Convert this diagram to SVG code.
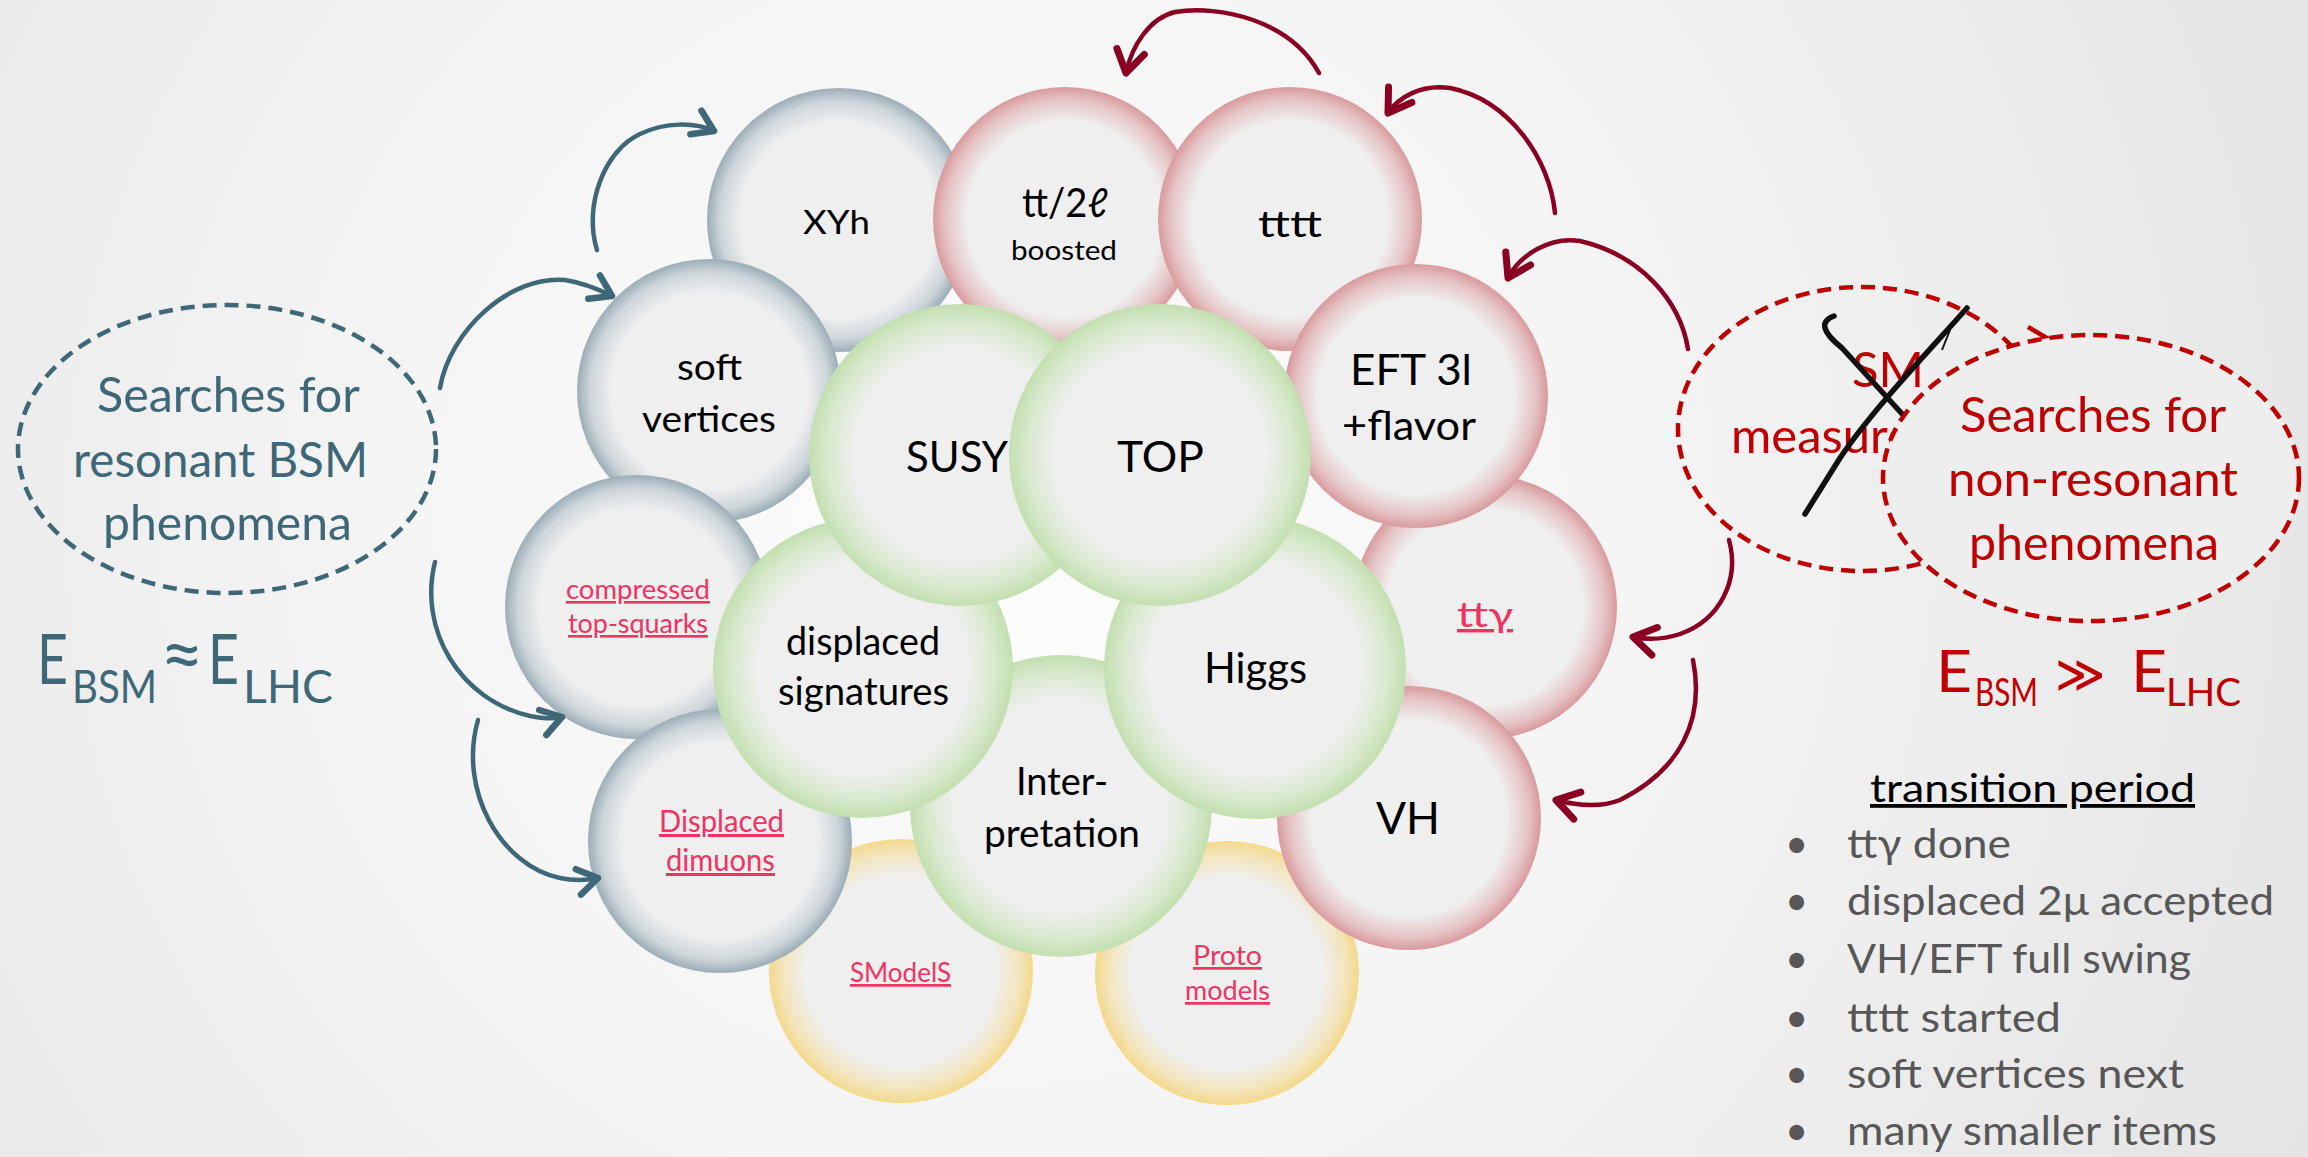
<svg xmlns="http://www.w3.org/2000/svg" width="2308" height="1157" viewBox="0 0 2308 1157">
<defs>
<radialGradient id="bg" cx="1000" cy="520" r="1450" gradientUnits="userSpaceOnUse">
<stop offset="0" stop-color="#fdfdfd"/><stop offset="0.45" stop-color="#f4f4f4"/><stop offset="1" stop-color="#e4e4e4"/>
</radialGradient>
<radialGradient id="gGray"><stop offset="0" stop-color="#efefef"/><stop offset="0.74" stop-color="#efefef"/><stop offset="0.9" stop-color="#cdd6db"/><stop offset="1" stop-color="#9cadb6"/></radialGradient>
<radialGradient id="gPink"><stop offset="0" stop-color="#efefef"/><stop offset="0.74" stop-color="#efefef"/><stop offset="0.9" stop-color="#e6c5c6"/><stop offset="1" stop-color="#d99a9d"/></radialGradient>
<radialGradient id="gGreen"><stop offset="0" stop-color="#efefef"/><stop offset="0.7" stop-color="#efefef"/><stop offset="0.88" stop-color="#d8e9cd"/><stop offset="1" stop-color="#c3dfb0"/></radialGradient>
<radialGradient id="gYellow"><stop offset="0" stop-color="#efefef"/><stop offset="0.72" stop-color="#efefef"/><stop offset="0.9" stop-color="#f3e4ba"/><stop offset="1" stop-color="#f4d98b"/></radialGradient>
<marker id="ahTeal" markerUnits="userSpaceOnUse" orient="auto" overflow="visible" markerWidth="1" markerHeight="1" refX="0" refY="0">
<path d="M -20 -13 L 0 0 L -20 13" fill="none" stroke="#3e6778" stroke-width="6.5" stroke-linecap="round" stroke-linejoin="round"/>
</marker>
<marker id="ahRed" markerUnits="userSpaceOnUse" orient="auto" overflow="visible" markerWidth="1" markerHeight="1" refX="0" refY="0">
<path d="M -22 -14 L 0 0 L -22 14" fill="none" stroke="#8a0022" stroke-width="7" stroke-linecap="round" stroke-linejoin="round"/>
</marker>
<style>
text{font-family:Lato,'Open Sans','Liberation Sans',sans-serif}
.n{fill:#000}
.lk{fill:#f0335f;text-decoration:underline}
.teal{fill:#3e6778}
.red{fill:#c00000}
.li{fill:#575757}
.cGray{fill:url(#gGray)}
.cPink{fill:url(#gPink)}
.cGreen{fill:url(#gGreen)}
.cYellow{fill:url(#gYellow)}
.arT{fill:none;stroke:#3e6778;stroke-width:4.5;stroke-linecap:round;marker-end:url(#ahTeal)}
.arR{fill:none;stroke:#8a0022;stroke-width:4.5;stroke-linecap:round;marker-end:url(#ahRed)}
.dashT{fill:none;stroke:#3e6778;stroke-width:4.5;stroke-dasharray:14 8}
.dashR{stroke:#c00000;stroke-width:4.5;stroke-dasharray:14 8}
.xs{fill:none;stroke:#111;stroke-width:5.5;stroke-linecap:round;stroke-linejoin:round}
</style>
</defs>
<rect width="2308" height="1157" fill="url(#bg)"/>

<!-- nodes -->
<g id="node-smodels"><circle class="cYellow" cx="901" cy="971" r="132"/>
<text class="lk" x="850" y="982" font-size="27" textLength="101" lengthAdjust="spacingAndGlyphs">SModelS</text></g>
<g id="node-proto"><circle class="cYellow" cx="1227" cy="973" r="132"/>
<text class="lk" x="1193" y="965" font-size="27" textLength="69" lengthAdjust="spacingAndGlyphs">Proto</text>
<text class="lk" x="1185" y="1000" font-size="27" textLength="85" lengthAdjust="spacingAndGlyphs">models</text></g>
<g id="node-xyh"><circle class="cGray" cx="839" cy="220" r="132"/>
<text class="n" x="803" y="234" font-size="33" textLength="67" lengthAdjust="spacingAndGlyphs">XYh</text></g>
<g id="node-tt2l"><circle class="cPink" cx="1065" cy="219" r="132"/>
<text class="n" x="1022" y="217" font-size="40" textLength="86" lengthAdjust="spacingAndGlyphs">tt/2ℓ</text>
<text class="n" x="1011" y="260" font-size="27" textLength="106" lengthAdjust="spacingAndGlyphs">boosted</text></g>
<g id="node-tttt"><circle class="cPink" cx="1290" cy="219" r="132"/>
<text class="n" x="1258" y="237" font-size="36" textLength="64" lengthAdjust="spacingAndGlyphs">tttt</text></g>
<g id="node-soft"><circle class="cGray" cx="709" cy="391" r="132"/>
<text class="n" x="677" y="380" font-size="36" textLength="65" lengthAdjust="spacingAndGlyphs">soft</text>
<text class="n" x="642" y="432" font-size="36" textLength="134" lengthAdjust="spacingAndGlyphs">vertices</text></g>
<g id="node-compressed"><circle class="cGray" cx="637" cy="607" r="132"/>
<text class="lk" x="566" y="599" font-size="26" textLength="144" lengthAdjust="spacingAndGlyphs">compressed</text>
<text class="lk" x="568" y="633" font-size="26" textLength="140" lengthAdjust="spacingAndGlyphs">top-squarks</text></g>
<g id="node-dimuons"><circle class="cGray" cx="720" cy="841" r="132"/>
<text class="lk" x="659" y="832" font-size="30" textLength="125" lengthAdjust="spacingAndGlyphs">Displaced</text>
<text class="lk" x="666" y="871" font-size="30" textLength="109" lengthAdjust="spacingAndGlyphs">dimuons</text></g>
<g id="node-ttgamma"><circle class="cPink" cx="1485" cy="607" r="132"/>
<text class="lk" x="1457" y="627" font-size="34" textLength="56" lengthAdjust="spacingAndGlyphs">ttγ</text></g>
<g id="node-vh"><circle class="cPink" cx="1409" cy="818" r="132"/>
<text class="n" x="1376" y="834" font-size="44" textLength="64" lengthAdjust="spacingAndGlyphs">VH</text></g>
<g id="node-eft"><circle class="cPink" cx="1416" cy="396" r="132"/>
<text class="n" x="1350" y="385" font-size="42" textLength="122" lengthAdjust="spacingAndGlyphs">EFT 3l</text>
<text class="n" x="1342" y="440" font-size="40" textLength="134" lengthAdjust="spacingAndGlyphs">+flavor</text></g>
<g id="node-interpretation"><circle class="cGreen" cx="1061" cy="806" r="151"/>
<text class="n" x="1016" y="795" font-size="38" textLength="92" lengthAdjust="spacingAndGlyphs">Inter-</text>
<text class="n" x="984" y="847" font-size="38" textLength="156" lengthAdjust="spacingAndGlyphs">pretation</text></g>
<g id="node-displaced"><circle class="cGreen" cx="863" cy="668" r="150"/>
<text class="n" x="786" y="655" font-size="38" textLength="154" lengthAdjust="spacingAndGlyphs">displaced</text>
<text class="n" x="778" y="705" font-size="38" textLength="171" lengthAdjust="spacingAndGlyphs">signatures</text></g>
<g id="node-higgs"><circle class="cGreen" cx="1255" cy="668" r="151"/>
<text class="n" x="1204" y="683" font-size="42" textLength="103" lengthAdjust="spacingAndGlyphs">Higgs</text></g>
<g id="node-susy"><circle class="cGreen" cx="960" cy="455" r="151"/>
<text class="n" x="906" y="472" font-size="42" textLength="102" lengthAdjust="spacingAndGlyphs">SUSY</text></g>
<g id="node-top"><circle class="cGreen" cx="1160" cy="455" r="151"/>
<text class="n" x="1117" y="472" font-size="42" textLength="87" lengthAdjust="spacingAndGlyphs">TOP</text></g>

<!-- left label -->
<g id="node-resonant">
<ellipse class="dashT" cx="227" cy="449" rx="209" ry="144"/>
<text class="teal" x="97" y="412" font-size="48" textLength="263" lengthAdjust="spacingAndGlyphs">Searches for</text>
<text class="teal" x="73" y="477" font-size="48" textLength="295" lengthAdjust="spacingAndGlyphs">resonant BSM</text>
<text class="teal" x="103" y="540" font-size="48" textLength="249" lengthAdjust="spacingAndGlyphs">phenomena</text>
</g>
<g id="energy-left" class="teal">
<text x="37" y="684" font-size="70" textLength="31" lengthAdjust="spacingAndGlyphs">E</text>
<text x="72" y="703" font-size="46" textLength="85" lengthAdjust="spacingAndGlyphs">BSM</text>
<text x="160" y="680" font-size="76" textLength="44" lengthAdjust="spacingAndGlyphs">≈</text>
<text x="208" y="684" font-size="70" textLength="31" lengthAdjust="spacingAndGlyphs">E</text>
<text x="243" y="703" font-size="46" textLength="90" lengthAdjust="spacingAndGlyphs">LHC</text>
</g>

<!-- right labels -->
<g id="node-sm">
<ellipse class="dashR" fill="none" cx="1862" cy="429" rx="184" ry="142"/>
<path d="M 2028 327 L 2047 338 L 2028 345" fill="none" stroke="#c00000" stroke-width="4.5"/>
<text class="red" x="1852" y="387" font-size="49">SM</text>
<text class="red" x="1731" y="453" font-size="49">measurements</text>
<path class="xs" d="M 1834 316 Q 1812 324 1842 348 L 1904 416"/>
<path class="xs" d="M 1967 308 C 1930 350 1872 410 1840 458 C 1822 487 1812 503 1805 514"/>
<path d="M 1950 330 L 1942 350" fill="none" stroke="#111" stroke-width="2"/>
</g>
<g id="node-nonresonant">
<ellipse class="dashR" fill="#eeeeee" cx="2091" cy="478" rx="208" ry="143"/>
<text class="red" x="1960" y="432" font-size="49" textLength="266" lengthAdjust="spacingAndGlyphs">Searches for</text>
<text class="red" x="1948" y="496" font-size="49" textLength="290" lengthAdjust="spacingAndGlyphs">non-resonant</text>
<text class="red" x="1969" y="560" font-size="49" textLength="250" lengthAdjust="spacingAndGlyphs">phenomena</text>
</g>
<g id="energy-right" class="red">
<text x="1936" y="692" font-size="58" textLength="36" lengthAdjust="spacingAndGlyphs">E</text>
<text x="1975" y="706" font-size="38" textLength="63" lengthAdjust="spacingAndGlyphs">BSM</text>
<text x="2055" y="692" font-size="52" textLength="50" lengthAdjust="spacingAndGlyphs">≫</text>
<text x="2131" y="692" font-size="58" textLength="36" lengthAdjust="spacingAndGlyphs">E</text>
<text x="2166" y="706" font-size="38" textLength="75" lengthAdjust="spacingAndGlyphs">LHC</text>
</g>

<g id="transition">
<text x="1870" y="802" font-size="38" fill="#000" text-decoration="underline" textLength="325" lengthAdjust="spacingAndGlyphs">transition period</text>
<g class="li" font-size="40">
<text x="1785" y="858">•</text><text x="1847" y="858" textLength="164" lengthAdjust="spacingAndGlyphs">ttγ done</text>
<text x="1785" y="915">•</text><text x="1847" y="915" textLength="427" lengthAdjust="spacingAndGlyphs">displaced 2μ accepted</text>
<text x="1785" y="973">•</text><text x="1847" y="973" textLength="344" lengthAdjust="spacingAndGlyphs">VH/EFT full swing</text>
<text x="1785" y="1032">•</text><text x="1847" y="1032" textLength="214" lengthAdjust="spacingAndGlyphs">tttt started</text>
<text x="1785" y="1088">•</text><text x="1847" y="1088" textLength="337" lengthAdjust="spacingAndGlyphs">soft vertices next</text>
<text x="1785" y="1145">•</text><text x="1847" y="1145" textLength="370" lengthAdjust="spacingAndGlyphs">many smaller items</text>
</g>
</g>

<!-- connectors -->
<g id="connectors">
<path class="arT" d="M 597 250 C 583 205 605 150 640 134 C 665 122 695 122 714 131"/>
<path class="arT" d="M 440 388 C 450 330 510 275 565 280 C 585 283 600 290 612 296"/>
<path class="arT" d="M 435 562 C 418 630 460 700 530 716 C 545 719 555 719 562 717"/>
<path class="arT" d="M 478 720 C 458 790 500 865 560 878 C 575 881 588 880 598 878"/>
<path class="arR" d="M 1319 73 C 1290 20 1220 5 1175 12 C 1150 18 1132 45 1126 73"/>
<path class="arR" d="M 1555 213 C 1550 160 1510 100 1450 88 C 1420 84 1398 98 1388 113"/>
<path class="arR" d="M 1688 349 C 1680 300 1640 255 1580 241 C 1550 236 1520 255 1508 278"/>
<path class="arR" d="M 1729 540 C 1740 580 1720 620 1680 634 C 1665 639 1648 640 1633 637"/>
<path class="arR" d="M 1693 660 C 1705 720 1680 770 1620 800 C 1600 808 1575 805 1556 800"/>
</g>
</svg>
